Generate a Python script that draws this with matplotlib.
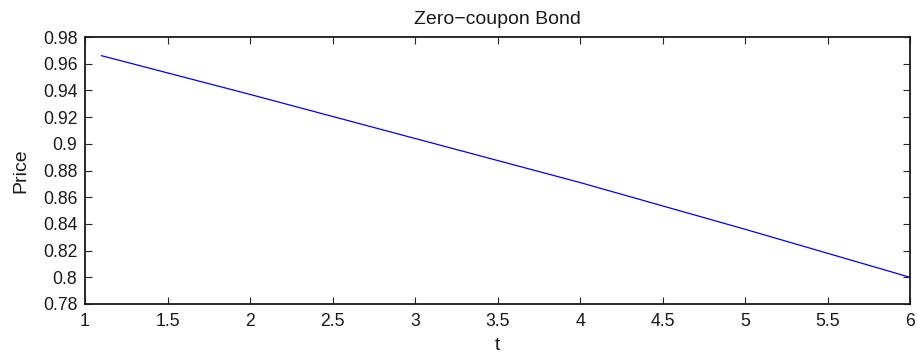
import matplotlib
matplotlib.use("Agg")
import matplotlib.pyplot as plt

t_values = [1.1, 2.0, 3.0, 4.0, 5.0, 6.0]
price_values = [0.966, 0.937, 0.904, 0.871, 0.836, 0.800]
x_ticks = [1, 1.5, 2, 2.5, 3, 3.5, 4, 4.5, 5, 5.5, 6]
x_tick_labels = ["1", "1.5", "2", "2.5", "3", "3.5", "4", "4.5", "5", "5.5", "6"]
y_ticks = [0.78, 0.80, 0.82, 0.84, 0.86, 0.88, 0.90, 0.92, 0.94, 0.96, 0.98]
y_tick_labels = ["0.78", "0.8", "0.82", "0.84", "0.86", "0.88", "0.9", "0.92", "0.94", "0.96", "0.98"]

plt.rcParams['font.family'] = ['Liberation Sans', 'DejaVu Sans']

fig = plt.figure(figsize=(9.17, 3.56), dpi=100)
ax = fig.add_axes([85/917, 1 - 304/356, (910 - 85)/917, (304 - 37)/356])
ax.plot(t_values, price_values, color='#0000ff', linewidth=0.9)
ax.set_xlim(1, 6)
ax.set_ylim(0.78, 0.98)
ax.set_xticks(x_ticks)
ax.set_xticklabels(x_tick_labels)
ax.set_yticks(y_ticks)
ax.set_yticklabels(y_tick_labels)
ax.tick_params(direction='in', top=True, right=True, length=5, width=0.8,
               labelsize=12.7, colors='#262626', labelcolor='#1a1a1a')
ax.tick_params(axis='x', pad=6.5)
ax.tick_params(axis='y', pad=5.5)
for s in ax.spines.values():
    s.set_linewidth(1.3)
    s.set_color('#1a1a1a')
ax.set_title("Zero\u2212coupon Bond", fontsize=14, pad=9, color='#1a1a1a')
ax.set_xlabel("t", fontsize=14, labelpad=5, color='#1a1a1a')
ax.set_ylabel("Price", fontsize=14, labelpad=10, color='#1a1a1a')
fig.savefig("out.png", dpi=100)
